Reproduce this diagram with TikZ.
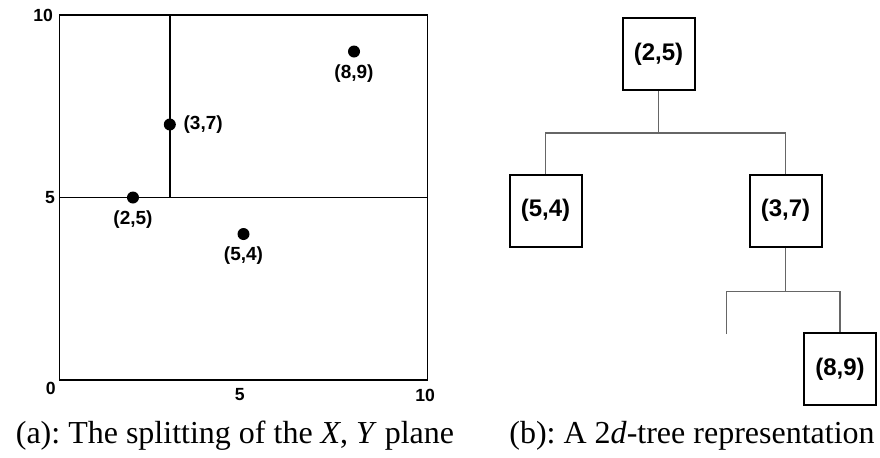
\documentclass[tikz,border=0pt]{standalone}
\usepackage{fontspec}
\setmainfont{Liberation Serif}
\setsansfont{Liberation Sans}
\usetikzlibrary{positioning}
\frenchspacing

\begin{document}
\begin{tikzpicture}[
  x=0.5pt, y=-0.5pt,
  % --- Styles ---
  frame/.style={line width=0.75pt},
  cut/.style={line width=0.7pt},
  dot/.style={circle, fill=black, inner sep=0pt, minimum size=6pt},
  ptlbl/.style={font=\sffamily\bfseries\fontsize{9.5}{11}\selectfont, inner sep=0.5pt},
  axlbl/.style={font=\sffamily\bfseries\fontsize{8.8}{10}\selectfont, inner sep=0pt},
  tbox/.style={rectangle, draw, line width=1pt, minimum size=36pt, inner sep=0pt,
    font=\sffamily\bfseries\fontsize{12}{14}\selectfont},
  edge/.style={draw=black!60, line width=0.6pt},
  caption/.style={font=\fontsize{16}{18}\selectfont, anchor=base, inner sep=0pt},
]
\useasboundingbox (0,0) rectangle (880,457);
% === (a) THE PLANE ===
\begin{scope}[shift={(29.65pt,-190pt)}, x=18.42pt, y=18.25pt]
  \draw[frame] (0,0) rectangle (10,10);
  \draw[cut] (0,5) -- (10,5);
  \draw[cut] (3,5) -- (3,10);
  % axis numbers
  \node[axlbl] (y10) at (-0.44,10) {10};
  \node[axlbl] (y5) at (-0.25,5) {5};
  \node[axlbl] (o) at (-0.23,-0.22) {0};
  \node[axlbl] (x5) at (4.9,-0.41) {5};
  \node[axlbl] (x10) at (9.93,-0.41) {10};
  % points
  \node[dot] (p25) at (2,5) {};
  \node[dot] (p37) at (3,7) {};
  \node[dot] (p54) at (5,4) {};
  \node[dot] (p89) at (8,9) {};
  \node[ptlbl, below=2.5pt of p25] (l25) {(2,5)};
  \node[ptlbl, right=3pt of p37] (l37) {(3,7)};
  \node[ptlbl, below=2.5pt of p54] (l54) {(5,4)};
  \node[ptlbl, below=2.5pt of p89] (l89) {(8,9)};
\end{scope}
% === (b) THE TREE ===
\node[tbox] (r25) at (658.5,54) {(2,5)};
\node[tbox] (c54) at (545.5,210.5) {(5,4)};
\node[tbox] (c37) at (785.5,210.5) {(3,7)};
\node[tbox] (c89) at (840,369) {(8,9)};
\coordinate (nil) at (726.7,334);
\draw[edge] (r25.south) -- ++(0,42) coordinate (j1);
\draw[edge] (c54.north) |- (j1) -| (c37.north);
\draw[edge] (c37.south) -- ++(0,44) coordinate (j2);
\draw[edge] (nil) |- (j2) -| (c89.north);
% === CAPTIONS ===
\node[caption] (capa) at (235,443) {(a): The splitting of the \textit{X}, \textit{Y} plane};
\node[caption] (capb) at (692,443) {(b): A 2\textit{d}-tree representation};
\end{tikzpicture}
\end{document}
